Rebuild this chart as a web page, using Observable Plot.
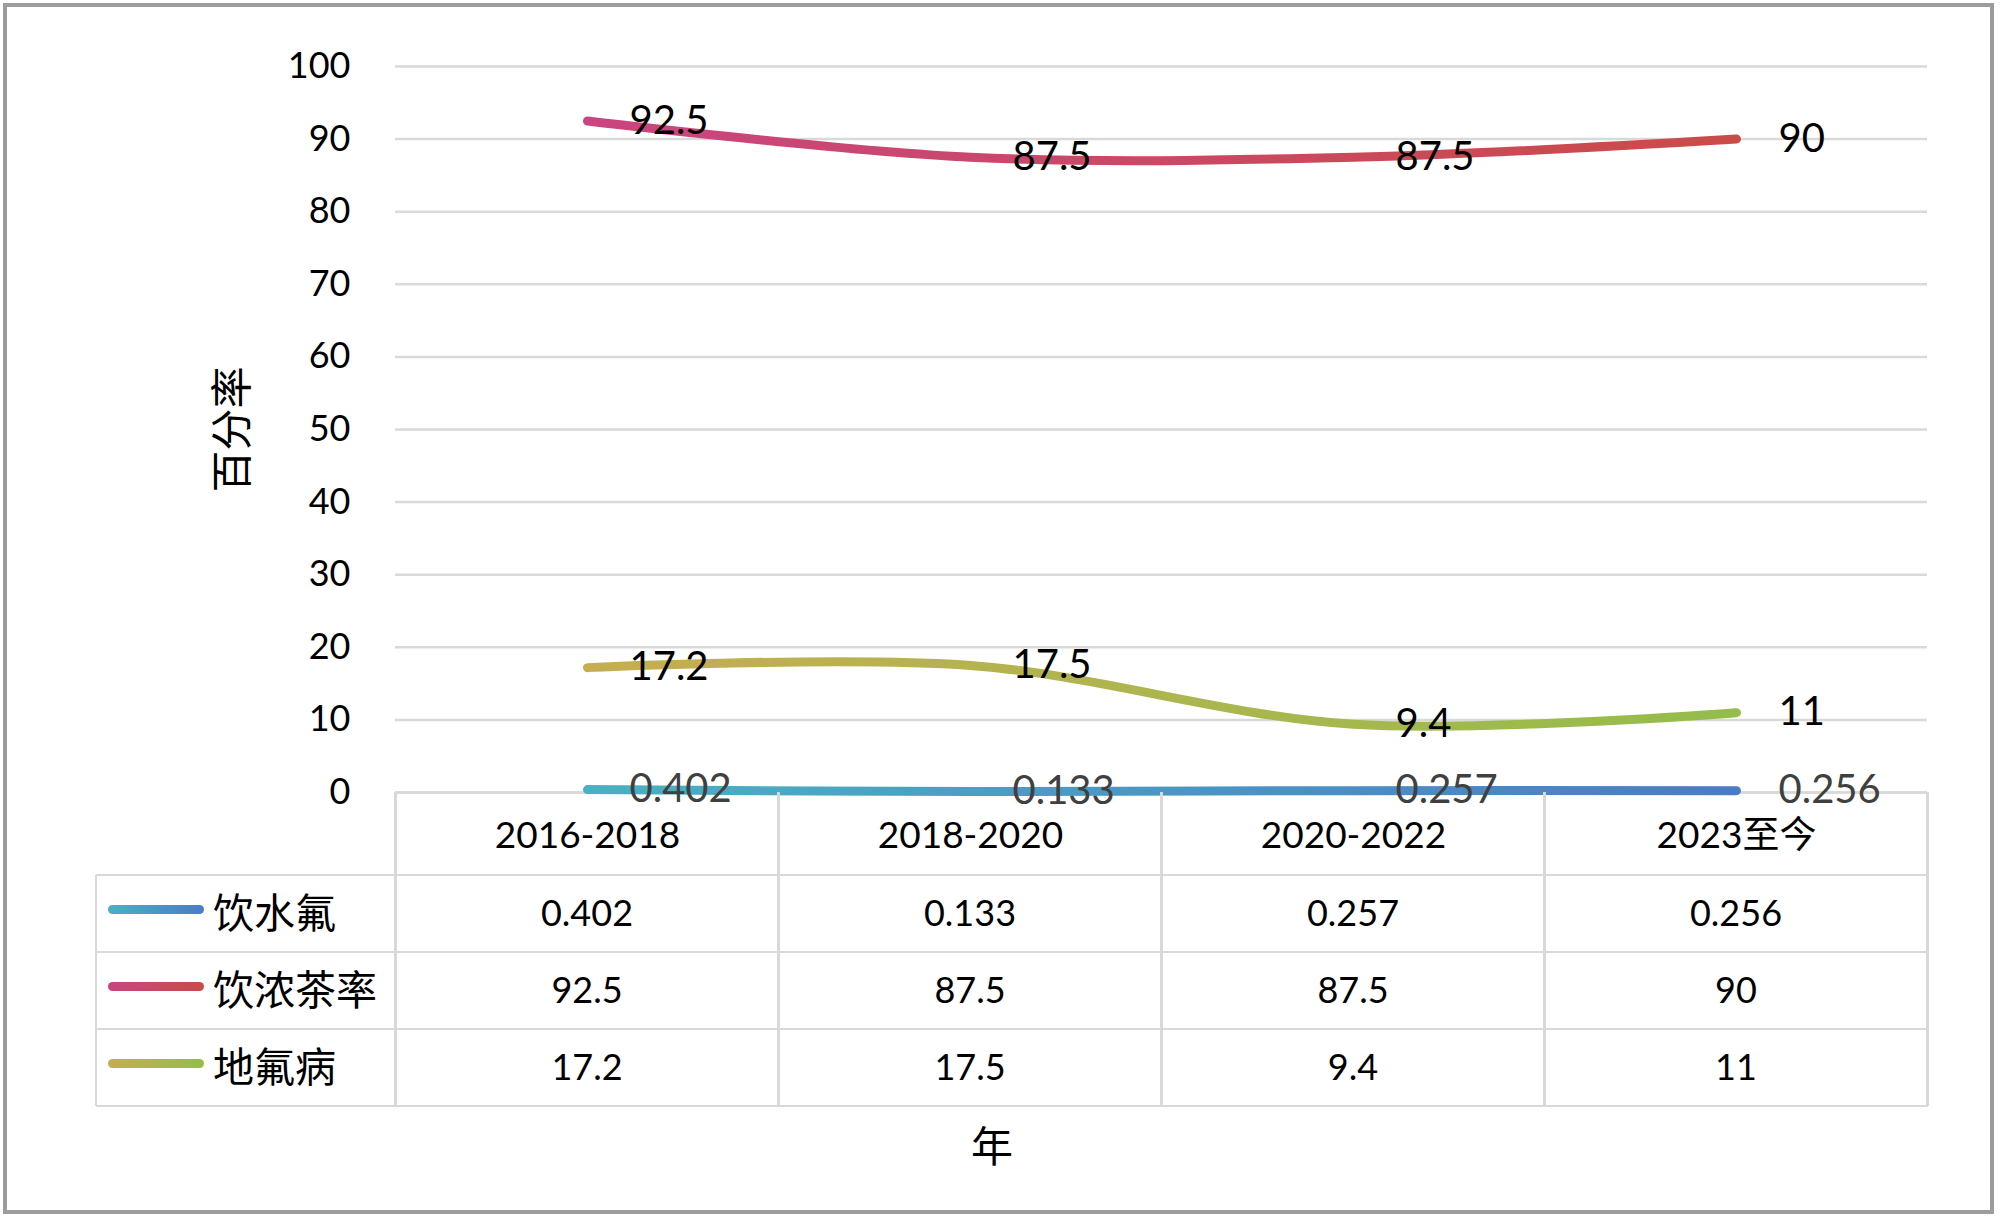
<!DOCTYPE html>
<html>
<head>
<meta charset="utf-8">
<script src="https://cdn.jsdelivr.net/npm/d3@7"></script>
<script src="https://cdn.jsdelivr.net/npm/@observablehq/plot@0.6"></script>
<style>
  html, body { margin: 0; padding: 0; background: #fff; }
  #wrap { position: relative; width: 2000px; height: 1216px; background: #fff; overflow: hidden; }
  #border { position: absolute; left: 3px; top: 3px; width: 1991px; height: 1211px; border: 4px solid #9c9c9c; box-sizing: border-box; pointer-events: none; }
  #chart { position: absolute; left: 0; top: 0; }
  .hl, .vl { position: absolute; background: #d9d9d9; }
  .cell { position: absolute; transform: translate(-50%, -50%); white-space: nowrap; font-family: Lato, "Noto Sans CJK SC", sans-serif; font-size: 36px; color: #000; line-height: 1; }
  .leg { position: absolute; transform: translate(0, -50%); white-space: nowrap; font-family: "Noto Sans CJK SC", sans-serif; font-size: 41px; color: #000; line-height: 1; }
  .legline { position: absolute; height: 9px; border-radius: 4.5px; }
</style>
</head>
<body>
<div id="wrap">
  <div id="chart"></div>
  <div id="table"></div>
  <div id="border"></div>
</div>
<script>
// ---- data ----
const categories = ["2016-2018", "2018-2020", "2020-2022", "2023至今"];
const seriesNames = ["饮水氟", "饮浓茶率", "地氟病"];
const waterFluoride = [0.402, 0.133, 0.257, 0.256];
const strongTeaRate = [92.5, 87.5, 87.5, 90];
const fluorosis = [17.2, 17.5, 9.4, 11];
const yTicks = [0, 10, 20, 30, 40, 50, 60, 70, 80, 90, 100];
const yLabel = "百分率";
const xLabel = "年";

const seriesValues = [waterFluoride, strongTeaRate, fluorosis];
const gradientIds = ["gWater", "gTea", "gDisease"];
const gradientColors = [["#49b1c3", "#4a7cc6"], ["#ca4580", "#c94c48"], ["#c6ad52", "#94bd4b"]];
const labelColors = ["#404040", "#000", "#000"];

const rows = [];
seriesNames.forEach((s, i) => {
  categories.forEach((c, j) => rows.push({series: s, si: i, cat: c, value: seriesValues[i][j]}));
});

const numFont = 'Lato, "Noto Sans CJK SC", sans-serif';
const cjkFont = '"Noto Sans CJK SC", sans-serif';

const lineMarks = seriesNames.map((s, i) =>
  Plot.line(rows.filter(d => d.si === i), {
    x: "cat", y: "value", stroke: `url(#${gradientIds[i]})`,
    strokeWidth: 9, strokeLinecap: "round", strokeLinejoin: "round", curve: "cardinal"
  })
);
const labelMarks = seriesNames.map((s, i) =>
  Plot.text(rows.filter(d => d.si === i), {
    x: "cat", y: "value", text: d => String(d.value), dx: 42, textAnchor: "start",
    lineAnchor: "middle", fill: labelColors[i], fontSize: 40, fontFamily: numFont
  })
);

const chart = Plot.plot({
  width: 2000,
  height: 1216,
  marginLeft: 395,
  marginRight: 73,
  marginTop: 66,
  marginBottom: 424,
  x: {type: "point", domain: categories, padding: 0.5, label: null},
  y: {domain: [0, 100], label: null},
  style: {fontFamily: numFont, background: "transparent", color: "#000"},
  marks: [
    Plot.gridY(yTicks, {stroke: "#d9d9d9", strokeOpacity: 1, strokeWidth: 2.5}),
    Plot.axisY(yTicks, {tickSize: 0, tickPadding: 45, fontSize: 36, fill: "#000", label: null}),
    Plot.axisX({tickSize: 0, tickPadding: 29, fontSize: 37, fill: "#000", label: null}),
    Plot.ruleY([0], {stroke: "#d9d9d9", strokeWidth: 2.5}),
    ...lineMarks,
    ...labelMarks,
    Plot.text([yLabel], {frameAnchor: "left", textAnchor: "middle", rotate: -90, dx: -162, fontSize: 42, fontFamily: cjkFont, fill: "#000"})
  ]
});

document.getElementById("chart").appendChild(chart);

// gradients along x
const xs = chart.scale("x");
const ys = chart.scale("y");
const ns = "http://www.w3.org/2000/svg";
const defs = document.createElementNS(ns, "defs");
const xFirst = xs.apply(categories[0]);
const xLast = xs.apply(categories[categories.length - 1]);
gradientIds.forEach((id, i) => {
  const g = document.createElementNS(ns, "linearGradient");
  g.setAttribute("id", id);
  g.setAttribute("gradientUnits", "userSpaceOnUse");
  g.setAttribute("x1", xFirst); g.setAttribute("x2", xLast);
  g.setAttribute("y1", 0); g.setAttribute("y2", 0);
  gradientColors[i].forEach((c, k) => {
    const st = document.createElementNS(ns, "stop");
    st.setAttribute("offset", k === 0 ? "0" : "1");
    st.setAttribute("stop-color", c);
    g.appendChild(st);
  });
  defs.appendChild(g);
});
chart.insertBefore(defs, chart.firstChild);

// ---- data table below the axis ----
const table = document.getElementById("table");
const centers = categories.map(c => xs.apply(c));
const step = centers[1] - centers[0];
const bounds = centers.map(c => c - step / 2).concat([centers[centers.length - 1] + step / 2]);
const axisY0 = ys.apply(0);
const rowH = 77;
const headerBottom = axisY0 + 83;
const rowLines = [0, 1, 2, 3].map(k => headerBottom + k * rowH);
const tableLeft = 96;
const lw = 2.5;

function add(cls, style, text) {
  const el = document.createElement("div");
  el.className = cls;
  Object.assign(el.style, style);
  if (text != null) el.textContent = text;
  table.appendChild(el);
  return el;
}
rowLines.forEach(y => add("hl", {left: tableLeft + "px", top: (y - lw / 2) + "px", width: (bounds[bounds.length - 1] - tableLeft) + "px", height: lw + "px"}));
bounds.forEach(x => add("vl", {left: (x - lw / 2) + "px", top: axisY0 + "px", width: lw + "px", height: (rowLines[3] - axisY0) + "px"}));
add("vl", {left: (tableLeft - lw / 2) + "px", top: rowLines[0] + "px", width: lw + "px", height: (rowLines[3] - rowLines[0]) + "px"});

seriesNames.forEach((s, i) => {
  const cy = rowLines[i] + rowH / 2;
  add("legline", {left: "108px", top: (cy - 9) + "px", width: "96px",
    background: `linear-gradient(to right, ${gradientColors[i][0]}, ${gradientColors[i][1]})`});
  add("leg", {left: "213px", top: (cy - 4) + "px"}, s);
  categories.forEach((c, j) => {
    add("cell", {left: centers[j] + "px", top: (cy - 2) + "px"}, String(seriesValues[i][j]));
  });
});

add("leg", {left: "992px", top: "1144px", transform: "translate(-50%, -50%)", fontSize: "42px"}, xLabel);
</script>
</body>
</html>
